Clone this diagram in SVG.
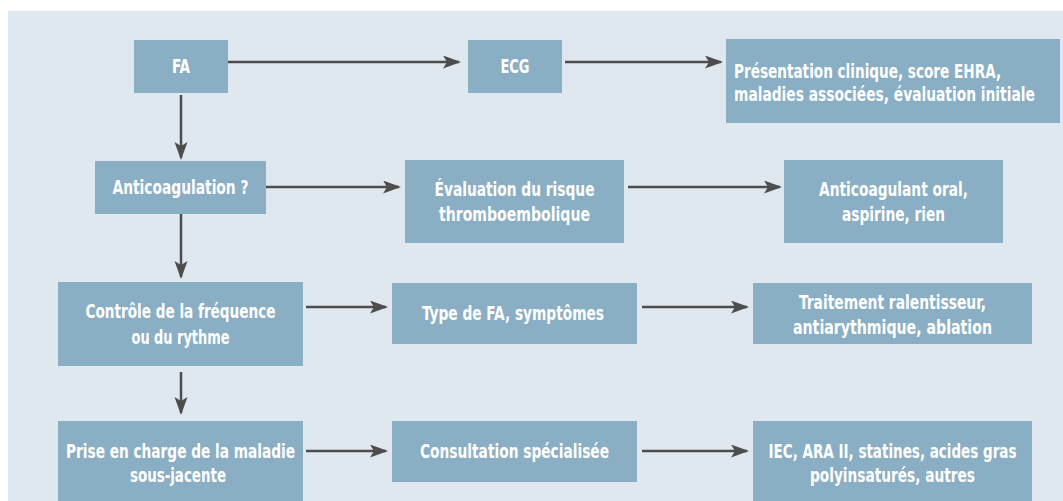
<svg xmlns="http://www.w3.org/2000/svg" width="1063" height="501" viewBox="0 0 1063 501">
<style>
.box{fill:#8aafc4}
.t{font-family:"DejaVu Sans Condensed","Liberation Sans Narrow","Liberation Sans",sans-serif;font-weight:bold;font-size:19px;fill:#ffffff;text-anchor:middle}
.l{text-anchor:start}
.c{fill:none;stroke:#4d4d4d;stroke-width:2.5}
</style>
<defs>
<marker id="ah" markerUnits="userSpaceOnUse" markerWidth="20" markerHeight="14" refX="16" refY="6.5" orient="auto">
<path d="M0,0 L18,6.5 L0,13 L4,6.5 z" fill="#4d4d4d"/>
</marker>
</defs>
<rect x="0" y="0" width="1063" height="501" fill="#ffffff"/>
<rect x="8" y="11" width="1055" height="490" fill="#dfe7ef"/>
<g id="connectors">
<path class="c" d="M228,62 H459" marker-end="url(#ah)"/>
<path class="c" d="M565,62 H721" marker-end="url(#ah)"/>
<path class="c" d="M266,187 H399" marker-end="url(#ah)"/>
<path class="c" d="M628,187 H780" marker-end="url(#ah)"/>
<path class="c" d="M306,307 H386" marker-end="url(#ah)"/>
<path class="c" d="M642,307 H747" marker-end="url(#ah)"/>
<path class="c" d="M306,451 H386" marker-end="url(#ah)"/>
<path class="c" d="M642,451 H747" marker-end="url(#ah)"/>
<path class="c" d="M181,95 V158" marker-end="url(#ah)"/>
<path class="c" d="M181,214 V277" marker-end="url(#ah)"/>
<path class="c" d="M181,372 V413" marker-end="url(#ah)"/>
</g>
<g id="n-fa"><rect class="box" x="134" y="40" width="94" height="53"/><text class="t" x="181" y="73" textLength="18" lengthAdjust="spacingAndGlyphs">FA</text></g>
<g id="n-ecg"><rect class="box" x="468" y="40" width="94" height="53"/><text class="t" x="515" y="73" textLength="29" lengthAdjust="spacingAndGlyphs">ECG</text></g>
<g id="n-pres"><rect class="box" x="726" y="39" width="334" height="84"/><text class="t l" transform="translate(734,78) scale(0.8,1)" x="0" y="0" textLength="334" lengthAdjust="spacingAndGlyphs">Présentation clinique, score EHRA,</text><text class="t l" transform="translate(734,101) scale(0.8,1)" x="0" y="0" textLength="376" lengthAdjust="spacingAndGlyphs">maladies associées, évaluation initiale</text></g>
<g id="n-anticoag"><rect class="box" x="95" y="161" width="171" height="53"/><text class="t" x="180.5" y="193.5" textLength="136" lengthAdjust="spacingAndGlyphs">Anticoagulation ?</text></g>
<g id="n-eval"><rect class="box" x="405" y="160" width="219" height="83"/><text class="t" x="514.5" y="196" textLength="160" lengthAdjust="spacingAndGlyphs">Évaluation du risque</text><text class="t" x="514.5" y="221" textLength="151" lengthAdjust="spacingAndGlyphs">thromboembolique</text></g>
<g id="n-oral"><rect class="box" x="784" y="160" width="219" height="83"/><text class="t" x="893.5" y="196" textLength="149" lengthAdjust="spacingAndGlyphs">Anticoagulant oral,</text><text class="t" x="893.5" y="221" textLength="103" lengthAdjust="spacingAndGlyphs">aspirine, rien</text></g>
<g id="n-controle"><rect class="box" x="58" y="282" width="245" height="84"/><text class="t" x="180.5" y="318" textLength="190" lengthAdjust="spacingAndGlyphs">Contrôle de la fréquence</text><text class="t" x="180.5" y="344" textLength="98" lengthAdjust="spacingAndGlyphs">ou du rythme</text></g>
<g id="n-type"><rect class="box" x="392" y="283" width="245" height="61"/><text class="t" x="513" y="319.5" textLength="182" lengthAdjust="spacingAndGlyphs">Type de FA, symptômes</text></g>
<g id="n-trait"><rect class="box" x="753" y="283" width="279" height="61"/><text class="t" x="892.5" y="308.5" textLength="187" lengthAdjust="spacingAndGlyphs">Traitement ralentisseur,</text><text class="t" x="892.5" y="333.5" textLength="199" lengthAdjust="spacingAndGlyphs">antiarythmique, ablation</text></g>
<g id="n-prise"><rect class="box" x="58" y="421" width="245" height="80"/><text class="t" x="180.5" y="457.5" textLength="229" lengthAdjust="spacingAndGlyphs">Prise en charge de la maladie</text><text class="t" x="178" y="482" textLength="96" lengthAdjust="spacingAndGlyphs">sous-jacente</text></g>
<g id="n-consult"><rect class="box" x="392" y="421" width="245" height="61"/><text class="t" x="514.5" y="458" textLength="189" lengthAdjust="spacingAndGlyphs">Consultation spécialisée</text></g>
<g id="n-iec"><rect class="box" x="753" y="421" width="279" height="80"/><text class="t" transform="translate(892.5,458) scale(0.8,1)" x="0" y="0" textLength="310" lengthAdjust="spacingAndGlyphs">IEC, ARA II, statines, acides gras</text><text class="t" x="892.5" y="482" textLength="165" lengthAdjust="spacingAndGlyphs">polyinsaturés, autres</text></g>
</svg>
